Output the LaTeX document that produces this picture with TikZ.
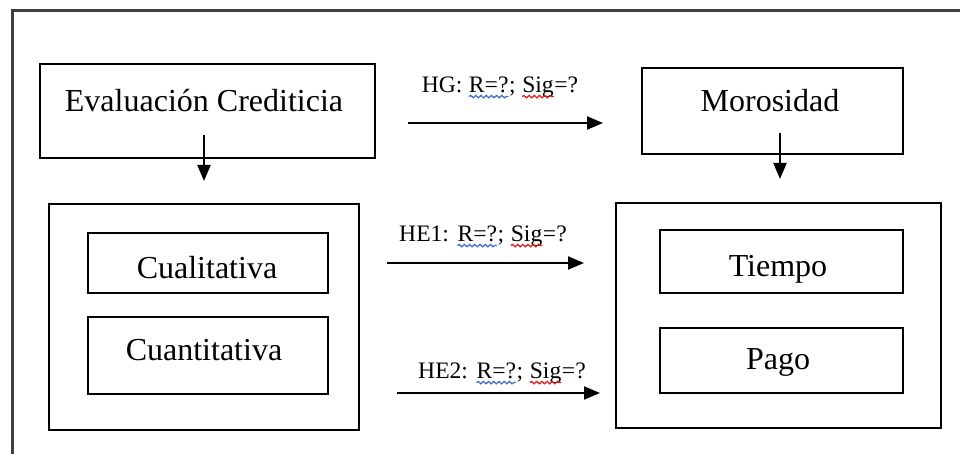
\documentclass[tikz,border=0pt]{standalone}
\usepackage{fontspec}
\setmainfont{Liberation Serif}
\usetikzlibrary{arrows.meta,decorations.pathmorphing}
\definecolor{frame}{HTML}{404040}
\definecolor{wblue}{HTML}{4472C4}
\definecolor{wred}{HTML}{E02020}
\newcommand\wv[2]{\tikz[baseline=(w.base)]{\node[inner sep=0pt,outer sep=0pt] (w) {#2};\draw[#1,line width=0.65pt,decorate,decoration={snake,amplitude=0.6pt,segment length=2.6pt}] ([yshift=-1.8pt]w.base west) -- ([yshift=-1.8pt]w.base east);}}
\tikzset{
  box/.style={draw,line width=1pt,inner sep=0pt,anchor=north west},
  txt/.style={font=\fontsize{16}{19}\selectfont,inner sep=0pt,anchor=base},
  lab/.style={font=\fontsize{11.8}{14}\selectfont,inner sep=0pt,anchor=base},
  arr/.style={line width=1pt,-{Triangle[length=8pt,width=6.5pt]}}
}
\begin{document}
\begin{tikzpicture}[x=0.5pt,y=-0.5pt]
\useasboundingbox (0,0) rectangle (960,454);
\draw[frame,line width=1.5pt] (12,454) -- (12,10.5) -- (960,10.5);
% top boxes
\node[box,minimum width=167.5pt,minimum height=47pt] (eval) at (39,63) {};
\node[txt] (evalt) at (204,112) {Evaluación Crediticia};
\node[box,minimum width=130.5pt,minimum height=43pt] (moro) at (641,67) {};
\node[txt] (morot) at (770,112) {Morosidad};
% containers
\node[box,minimum width=155pt,minimum height=113pt] (left) at (48,203) {};
\node[box,minimum width=162.5pt,minimum height=112.5pt] (right) at (615,202) {};
% inner boxes
\node[box,minimum width=120pt,minimum height=30pt] (cual) at (87,232) {};
\node[txt] (cualt) at (207,279) {Cualitativa};
\node[box,minimum width=120pt,minimum height=38.5pt] (cuan) at (87,316) {};
\node[txt] (cuant) at (204,361) {Cuantitativa};
\node[box,minimum width=121.5pt,minimum height=31.5pt] (tiem) at (659,229) {};
\node[txt] (tiemt) at (778,277) {Tiempo};
\node[box,minimum width=121.5pt,minimum height=32.5pt] (pago) at (659,327) {};
\node[txt] (pagot) at (778,370) {Pago};
% vertical arrows
\coordinate (v1s) at (204,135);
\coordinate (v1e) at (204,181);
\coordinate (v2s) at (780,133);
\coordinate (v2e) at (780,179);
\draw[arr] (v1s) -- (v1e);
\draw[arr] (v2s) -- (v2e);
% horizontal arrows
\coordinate (h1s) at (408,123);
\coordinate (h1e) at (603,123);
\coordinate (h2s) at (387,263);
\coordinate (h2e) at (584,263);
\coordinate (h3s) at (397,393);
\coordinate (h3e) at (600,393);
\draw[arr] (h1s) -- (h1e);
\draw[arr] (h2s) -- (h2e);
\draw[arr] (h3s) -- (h3e);
\node[lab] (hg) at (500,93) {HG: \wv{wblue}{R=?}; \wv{wred}{Sig}=?};
\node[lab] (he1) at (483,242) {HE1: \wv{wblue}{R=?}; \wv{wred}{Sig}=?};
\node[lab] (he2) at (502,379) {HE2: \wv{wblue}{R=?}; \wv{wred}{Sig}=?};
\end{tikzpicture}
\end{document}
